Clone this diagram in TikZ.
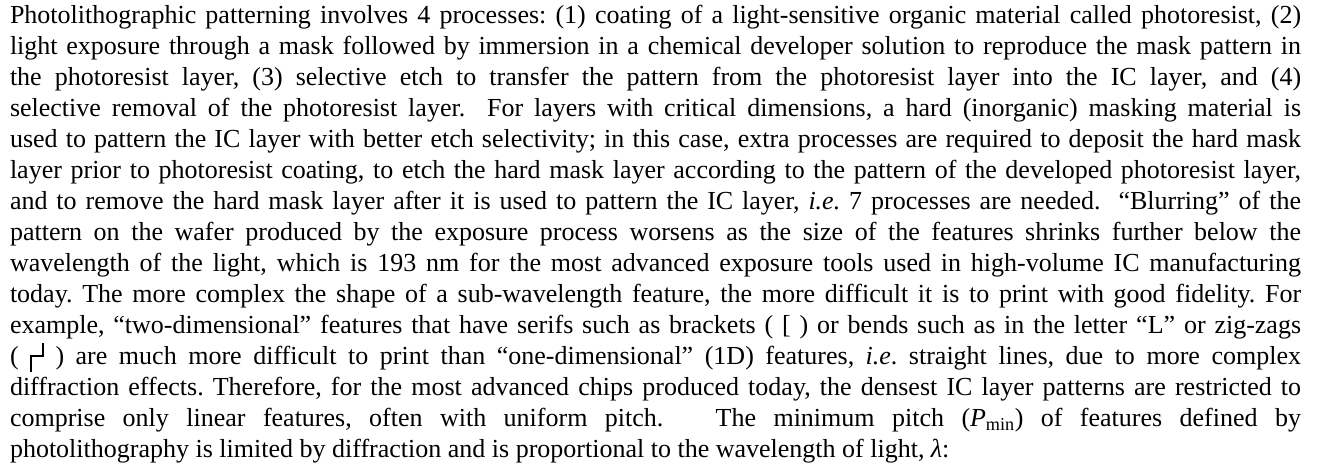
\documentclass[tikz,border=0pt]{standalone}
\usepackage{fontspec}
\setmainfont{Liberation Serif}
\newcommand{\zigzagglyph}{\hbox{\rule[-0.27em]{0.08em}{0.645em}\rule[0.295em]{0.37em}{0.08em}\rule[0.295em]{0.08em}{0.57em}}}
\newcommand{\jline}[1]{\makebox[1291bp][s]{#1}}
\tikzset{
  txt/.style={anchor=base west, inner sep=0pt, outer sep=0pt, font=\fontsize{26bp}{31bp}\selectfont\frenchspacing},
}
\begin{document}
\begin{tikzpicture}[x=1bp,y=1bp]
\useasboundingbox (0,0) rectangle (1319,467);
\fill[white] (0,0) rectangle (1319,467);
\node[txt] (l1) at (10,443) {\jline{Photolithographic patterning involves 4 processes: (1) coating of a light-sensitive organic material called photoresist, (2)}};
\node[txt] (l2) at (10,412) {\jline{light exposure through a mask followed by immersion in a chemical developer solution to reproduce the mask pattern in}};
\node[txt] (l3) at (10,381) {\jline{the photoresist layer, (3) selective etch to transfer the pattern from the photoresist layer into the IC layer, and (4)}};
\node[txt] (l4) at (10,350) {\jline{selective removal of the photoresist layer.\ \ For layers with critical dimensions, a hard (inorganic) masking material is}};
\node[txt] (l5) at (10,319) {\jline{used to pattern the IC layer with better etch selectivity; in this case, extra processes are required to deposit the hard mask}};
\node[txt] (l6) at (10,288) {\jline{layer prior to photoresist coating, to etch the hard mask layer according to the pattern of the developed photoresist layer,}};
\node[txt] (l7) at (10,257) {\jline{and to remove the hard mask layer after it is used to pattern the IC layer, \textit{i.e.} 7 processes are needed.\ \ “Blurring” of the}};
\node[txt] (l8) at (10,226) {\jline{pattern on the wafer produced by the exposure process worsens as the size of the features shrinks further below the}};
\node[txt] (l9) at (10,195) {\jline{wavelength of the light, which is 193 nm for the most advanced exposure tools used in high-volume IC manufacturing}};
\node[txt] (l10) at (10,164) {\jline{today. The more complex the shape of a sub-wavelength feature, the more difficult it is to print with good fidelity. For}};
\node[txt] (l11) at (10,133) {\jline{example, “two-dimensional” features that have serifs such as brackets ( [ ) or bends such as in the letter “L” or zig-zags}};
\node[txt] (l12) at (10,102) {\jline{( \zigzagglyph\ ) are much more difficult to print than “one-dimensional” (1D) features, \textit{i.e}. straight lines, due to more complex}};
\node[txt] (l13) at (10,71) {\jline{diffraction effects. Therefore, for the most advanced chips produced today, the densest IC layer patterns are restricted to}};
\node[txt] (l14) at (10,40) {\jline{comprise only linear features, often with uniform pitch.\ \ \ The minimum pitch (\textit{P}\textsubscript{min}) of features defined by}};
\node[txt] (l15) at (10,9) {photolithography is limited by diffraction and is proportional to the wavelength of light, \textit{λ}:};
\end{tikzpicture}
\end{document}
